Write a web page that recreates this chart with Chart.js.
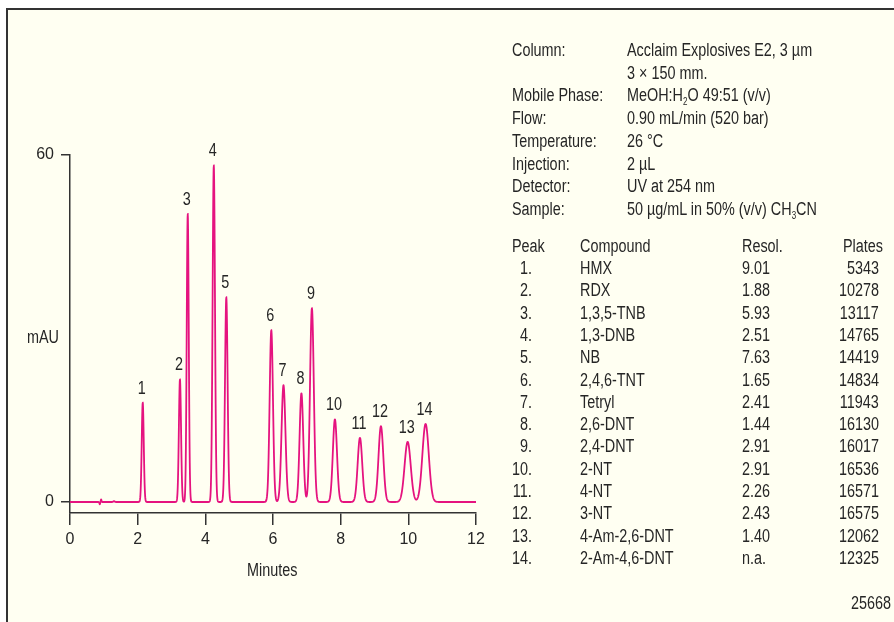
<!DOCTYPE html>
<html>
<head>
<meta charset="utf-8">
<script src="https://cdn.jsdelivr.net/npm/chart.js@4.4.0/dist/chart.umd.min.js"></script>
<style>
  html, body { margin: 0; padding: 0; background: #fff; }
  #wrap { position: relative; width: 894px; height: 622px; overflow: hidden; background: #fff; }
  #frame { position: absolute; left: 6px; top: 8px; width: 900px; height: 620px;
           border-top: 2px solid #333; border-left: 2px solid #333; background: #fffff2; }
  canvas { position: absolute; left: 0; top: 0; }
  .txt { position: absolute; font-family: "Liberation Sans", Arial, sans-serif;
         font-size: 18px; color: #262626; white-space: nowrap; line-height: 22px;
         transform: scaleX(0.8); transform-origin: left center; }
  .r { transform-origin: right center; }
  sub { font-size: 10px; vertical-align: -4px; line-height: 0; }
</style>
</head>
<body>
<div id="wrap">
  <div id="frame"></div>
  <canvas id="myChart" width="894" height="622"></canvas>
  <div id="panel"></div>
</div>
<script>
// peaks (minutes, mAU, peak sigma in minutes)
var peakTimes   = [2.15, 3.25, 3.48, 4.25, 4.62, 5.95, 6.31, 6.84, 7.15, 7.83, 8.57, 9.19, 9.98, 10.51];
var peakHeights = [17.2, 21.2, 49.8, 58.2, 35.4, 29.7, 20.2, 18.8, 33.5, 14.3, 11.1, 13.1, 10.4, 13.5];
var peakWidths  = [0.030, 0.032, 0.030, 0.035, 0.038, 0.049, 0.058, 0.054, 0.056, 0.061, 0.067, 0.071, 0.091, 0.095];
var peakLabels  = ['1','2','3','4','5','6','7','8','9','10','11','12','13','14'];

// small baseline disturbance near the void time
var blipTimes   = [0.88, 0.92, 1.30];
var blipHeights = [-0.4, 0.45, 0.15];
var blipWidths  = [0.010, 0.010, 0.020];

var xTicks = [0, 2, 4, 6, 8, 10, 12];
var yTicks = [0, 60];

var compounds = ['HMX','RDX','1,3,5-TNB','1,3-DNB','NB','2,4,6-TNT','Tetryl','2,6-DNT','2,4-DNT','2-NT','4-NT','3-NT','4-Am-2,6-DNT','2-Am-4,6-DNT'];
var resol     = ['9.01','1.88','5.93','2.51','7.63','1.65','2.41','1.44','2.91','2.91','2.26','2.43','1.40','n.a.'];
var plates    = ['5343','10278','13117','14765','14419','14834','11943','16130','16017','16536','16571','16575','12062','12325'];

var condLabels = ['Column:', '', 'Mobile Phase:', 'Flow:', 'Temperature:', 'Injection:', 'Detector:', 'Sample:'];
var condValues = ['Acclaim Explosives E2, 3 \u00b5m', '3 \u00d7 150 mm.', 'MeOH:H<sub>2</sub>O 49:51 (v/v)',
                  '0.90 mL/min (520 bar)', '26 \u00b0C', '2 \u00b5L', 'UV at 254 nm', '50 \u00b5g/mL in 50% (v/v) CH<sub>3</sub>CN'];

var lineColor = '#e5137f';
var textColor = '#262626';
var fontFam = '"Liberation Sans", Arial, sans-serif';

// build the trace from the peak list
function signal(t) {
  var y = 0;
  for (var i = 0; i < peakTimes.length; i++) {
    var d = (t - peakTimes[i]) / peakWidths[i];
    y += peakHeights[i] * Math.exp(-0.5 * d * d);
  }
  for (var j = 0; j < blipTimes.length; j++) {
    var e = (t - blipTimes[j]) / blipWidths[j];
    y += blipHeights[j] * Math.exp(-0.5 * e * e);
  }
  return y;
}
var trace = [];
for (var k = 0; k <= 2400; k++) {
  var t = k * 0.005;
  trace.push({x: t, y: signal(t)});
}

// text panel on the right
var panel = document.getElementById('panel');
function addText(html, left, y, cls) {
  var d = document.createElement('div');
  d.className = 'txt' + (cls ? ' ' + cls : '');
  d.style.left = left + 'px';
  d.style.top = y + 'px';
  d.innerHTML = html;
  panel.appendChild(d);
  return d;
}
function addRight(html, right, y) {
  var d = addText(html, 0, y, 'r');
  d.style.left = '';
  d.style.right = (894 - right) + 'px';
  return d;
}
for (var i = 0; i < condLabels.length; i++) {
  var rowY = 39 + i * 22.7;
  if (condLabels[i]) addText(condLabels[i], 512, rowY);
  addText(condValues[i], 627, rowY);
}
addText('Peak', 512, 235);
addText('Compound', 580, 235);
addText('Resol.', 742, 235);
addRight('Plates', 883, 235);
for (var r = 0; r < compounds.length; r++) {
  var ty = 257 + r * 22.3;
  addRight((r + 1) + '.', 532, ty);
  addText(compounds[r], 580, ty);
  addText(resol[r], 742, ty);
  addRight(plates[r], 879, ty);
}
addText('mAU', 27, 326);
addText('Minutes', 247, 559);
addRight('25668', 891, 592);

var peakLabelPlugin = {
  id: 'peakLabels',
  afterDatasetsDraw: function(chart) {
    var ctx = chart.ctx, xs = chart.scales.x, ys = chart.scales.y;
    ctx.save();
    ctx.font = '18px ' + fontFam;
    ctx.fillStyle = textColor;
    ctx.textAlign = 'center';
    ctx.textBaseline = 'middle';
    for (var i = 0; i < peakTimes.length; i++) {
      var px = xs.getPixelForValue(peakTimes[i]) - 1;
      var py = ys.getPixelForValue(peakHeights[i]) - 14;
      ctx.save();
      ctx.translate(px, py);
      ctx.scale(0.8, 1);
      ctx.fillText(peakLabels[i], 0, 0);
      ctx.restore();
    }
    ctx.restore();
  }
};

var ctx = document.getElementById('myChart');
var chromChart = new Chart(ctx, {
  type: 'line',
  data: {
    datasets: [{
      data: trace,
      borderColor: lineColor,
      borderWidth: 1.8,
      pointRadius: 0,
      tension: 0.01,
      fill: false
    }]
  },
  options: {
    responsive: false,
    animation: false,
    devicePixelRatio: 1,
    layout: { padding: { left: 0, top: 155, right: 418, bottom: 42 } },
    plugins: { legend: { display: false }, tooltip: { enabled: false } },
    scales: {
      x: {
        type: 'linear',
        min: 0, max: 12,
        afterBuildTicks: function(s) { s.ticks = xTicks.map(function(v) { return {value: v}; }); },
        afterFit: function(s) { s.height = 67; },
        border: { display: true, color: '#333', width: 1.5 },
        grid: { drawOnChartArea: false, tickLength: 12, color: '#333', lineWidth: 1.5 },
        ticks: { color: textColor, padding: 5, font: { family: fontFam, size: 16 } }
      },
      y: {
        type: 'linear',
        min: -1.9, max: 60,
        afterBuildTicks: function(s) { s.ticks = yTicks.map(function(v) { return {value: v}; }); },
        afterFit: function(s) { s.width = 70; },
        border: { display: true, color: '#333', width: 1.5 },
        grid: { drawOnChartArea: false, tickLength: 9, color: '#333', lineWidth: 1.5 },
        ticks: { color: textColor, padding: 7, font: { family: fontFam, size: 16 } }
      }
    }
  },
  plugins: [peakLabelPlugin]
});
</script>
</body>
</html>
